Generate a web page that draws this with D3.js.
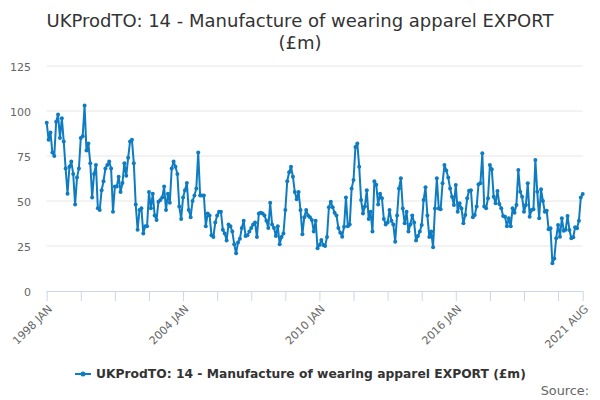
<!DOCTYPE html>
<html>
<head>
<meta charset="utf-8">
<script src="https://cdn.jsdelivr.net/npm/d3@7"></script>
<style>
  html, body { margin: 0; padding: 0; background: #fff; }
  svg { display: block; font-family: "DejaVu Sans", Verdana, sans-serif; }
</style>
</head>
<body>
<svg id="chart" width="600" height="400"></svg>
<script>
// ---- data ----
const titleLines = ["UKProdTO: 14 - Manufacture of wearing apparel EXPORT", "(£m)"];
const seriesName = "UKProdTO: 14 - Manufacture of wearing apparel EXPORT (£m)";
const startYear = 1998;
const monthNames = ["JAN","FEB","MAR","APR","MAY","JUN","JUL","AUG","SEP","OCT","NOV","DEC"];
const values = [
  93.5,84,88,77,75,94,98,85,96,83, 68,54,69,72,65,48,63,68,85,86,
  103,78,82,71,52,65,70,46,45,56, 61,68,70,72,68,44,58,58,63.5,55,
  60,71,64,74,83,84,71,48,34,45, 46,32,36,36,55,46,
  54,42,39.5,49.6,50.5,52,58,45,54,49, 68,72,69,65,47,40,52,56,60,45,
  41,50,53,57,77,53,53,53,36,43, 42,31,30,38,42,44,
  44,34,32,28,37,36,33,26,21,
  27,29,35,39,30.5,31,33,35,37,38, 30,43,43.5,43,42,39,35,49,37,35,
  30.5,36,26,30,32,45,61,66,69,
  63.5,55,51,55,45,31.5,41,45,42,41, 39.4,33,39,23.7,25.6,28.3,25.6,25,30,46.5,
  49.6,46.5,43.5,42,35,32.4,30.2,35.7,52,36, 37,57,61.7,80,82,69,
  50.5,43,47,56,40,44,33,61,59,48, 54,51.5,40,37,38,45,39,37,27.4,42,
  57,62.6,
  45.9,37.6,44,33,37,42,38,28,30.5,33, 36.7,50.5,57.6,42,30,33,24.3,45.9,62.6,45.9,
  45.4,59.8,70,67,63,57,52.4,47.8,58.9,44, 48.7,45.9,37.6,42.2,51.5,55.7,56,41,42.2,46.9,
  59.3,59.8,76.5,
  47,46,51.5,70,67.6,52.4,48.7,55.5,48.3,46, 41.7,41.3,36,40.4,36,46,43.5,47.8,67.2,55.2,
  52.4,44,47.8,59.8,41.3,45,45.4,72.8,55.2,40.4, 56.5,50,44,44.6,34.3,34.8,15.4,18.1,29.3,36.7,
  30.2,40.4,33.5,34,41.7,33.9,29.3,29.8,35.4,34.8, 39,52,53.9
];
const categories = values.map((v, i) => (startYear + Math.floor(i / 12)) + " " + monthNames[i % 12]);
const yTicks = [0, 25, 50, 75, 100, 125];
const xTickLabels = ["1998 JAN", "2004 JAN", "2010 JAN", "2016 JAN", "2021 AUG"];
const xTickStep = 18;

// ---- layout ----
const svg = d3.select("#chart");
const plotL = 46.7, plotR = 582.7, plotT = 66, plotB = 291;
const color = "#0f7cc2";

const x = d3.scalePoint().domain(categories).range([plotL, plotR]);
const y = d3.scaleLinear().domain([0, 125]).range([plotB, plotT]);

// title
const title = svg.append("text")
  .attr("text-anchor", "middle")
  .attr("fill", "#333333")
  .style("font-size", "18px");
titleLines.forEach((t, i) => {
  title.append("tspan").attr("x", 300).attr("y", 27 + i * 22).text(t);
});

// gridlines
svg.append("g").selectAll("line")
  .data(yTicks.filter(d => d > 0))
  .join("line")
  .attr("x1", plotL).attr("x2", plotR)
  .attr("y1", d => y(d)).attr("y2", d => y(d))
  .attr("stroke", "#e6e6e6").attr("stroke-width", 1);

// y labels
svg.append("g").selectAll("text")
  .data(yTicks)
  .join("text")
  .attr("x", 31)
  .attr("y", d => y(d) + 5)
  .attr("text-anchor", "end")
  .attr("fill", "#666666")
  .style("font-size", "11px")
  .text(d => d);

// x axis
const tickCats = categories.filter((c, i) => i % xTickStep === 0 || i === categories.length - 1);
const xAxis = d3.axisBottom(x)
  .tickValues(tickCats)
  .tickSize(10)
  .tickFormat(d => xTickLabels.includes(d) ? d : "");
const gx = svg.append("g")
  .attr("transform", `translate(0,${plotB})`)
  .call(xAxis);
gx.select(".domain").attr("stroke", "#ccd6eb").attr("d", `M${plotL},0.5H${plotR}`);
gx.selectAll(".tick line").attr("stroke", "#ccd6eb");
gx.selectAll(".tick text")
  .attr("fill", "#666666")
  .style("font-size", "11px")
  .style("font-family", "DejaVu Sans, sans-serif")
  .attr("text-anchor", "end")
  .attr("dy", "0.35em")
  .attr("x", 0).attr("y", 0)
  .attr("transform", "translate(3,16) rotate(-45)");

// line
const line = d3.line()
  .x((d, i) => x(categories[i]))
  .y(d => y(d));
svg.append("path")
  .datum(values)
  .attr("d", line)
  .attr("fill", "none")
  .attr("stroke", color)
  .attr("stroke-width", 2)
  .attr("stroke-linejoin", "round");

svg.append("g").selectAll("circle")
  .data(values)
  .join("circle")
  .attr("cx", (d, i) => x(categories[i]))
  .attr("cy", d => y(d))
  .attr("r", 2)
  .attr("fill", color);

// legend
const lg = svg.append("g");
lg.append("line").attr("x1", 75).attr("x2", 91).attr("y1", 374).attr("y2", 374)
  .attr("stroke", color).attr("stroke-width", 2);
lg.append("circle").attr("cx", 83).attr("cy", 374).attr("r", 2.5).attr("fill", color);
lg.append("text").attr("x", 96).attr("y", 378)
  .attr("fill", "#333333").style("font-size", "12.3px").style("font-weight", "bold")
  .text(seriesName);

// credits
svg.append("text").attr("x", 589).attr("y", 395)
  .attr("text-anchor", "end").attr("fill", "#666666").style("font-size", "12.8px")
  .text("Source:");
</script>
</body>
</html>
